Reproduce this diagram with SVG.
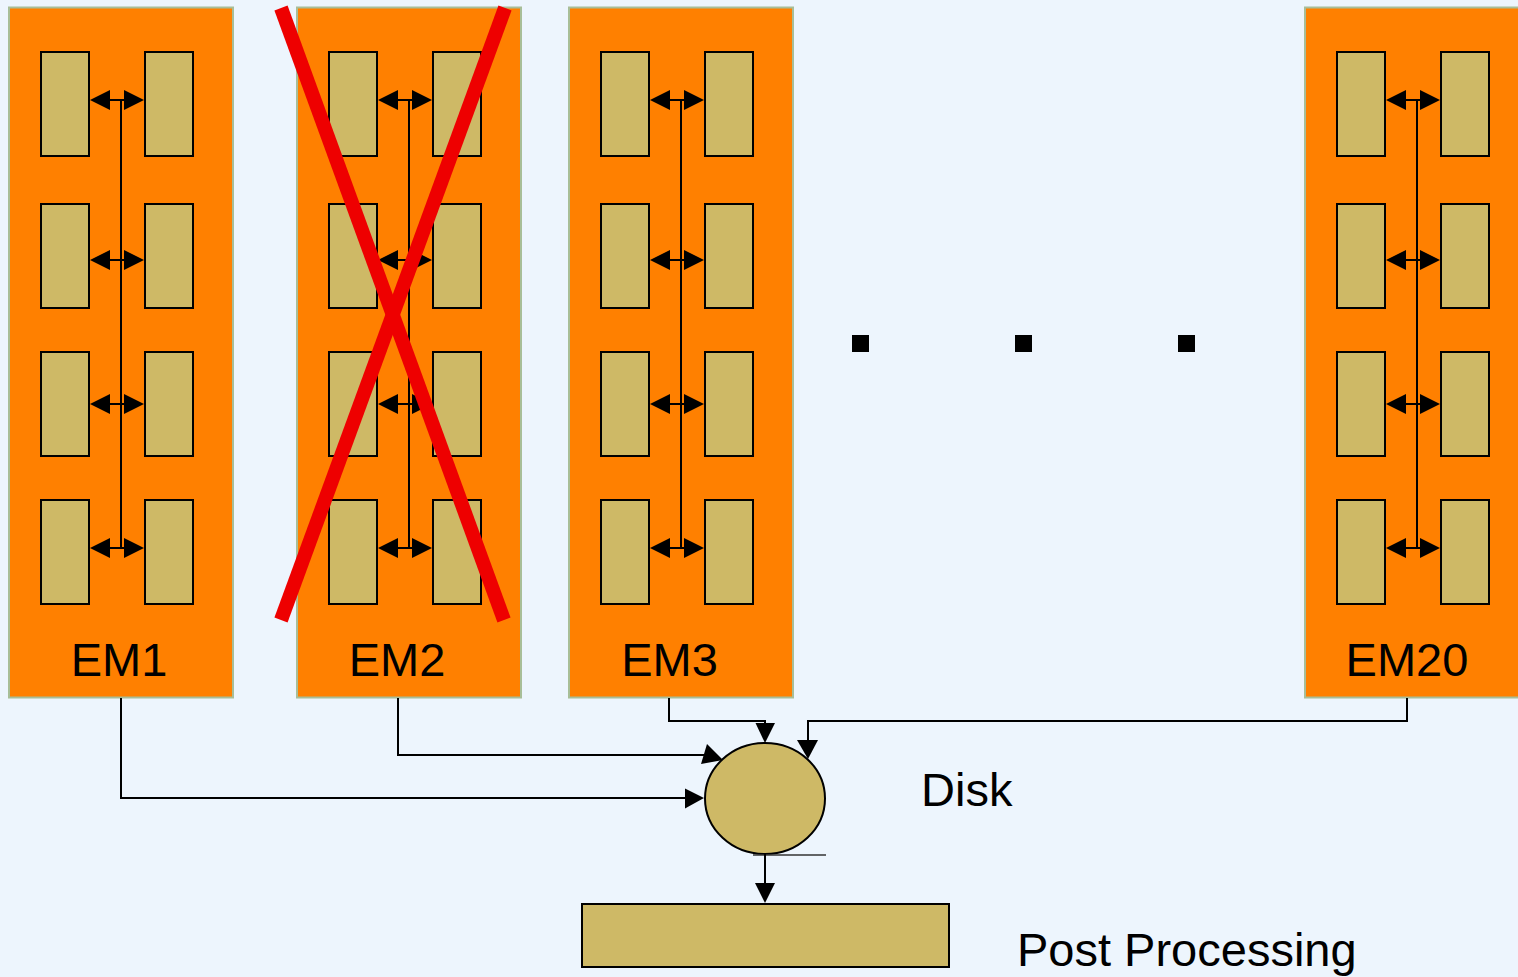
<svg xmlns="http://www.w3.org/2000/svg" width="1518" height="977" viewBox="0 0 1518 977">
<style>
.bg{fill:#EDF5FD}
.em{fill:#FF8000;stroke:#A8BE98;stroke-width:2}
.cell{fill:#CEB966;stroke:#000;stroke-width:2}
.ln{fill:none;stroke:#000;stroke-width:2}
.ah{fill:#000}
.lbl{font-family:"Liberation Sans",Arial,sans-serif;font-size:47px;fill:#000}
.x{stroke:#EE0000;stroke-width:14;stroke-linecap:butt}
</style>
<defs>
<g id="pair">
<rect class="cell" x="41" y="0" width="48" height="104"/>
<rect class="cell" x="145" y="0" width="48" height="104"/>
</g>
<g id="dbl">
<line class="ln" x1="108" y1="0" x2="126" y2="0"/>
<polygon class="ah" points="90,0 110,-10 110,10"/>
<polygon class="ah" points="144,0 124,-10 124,10"/>
</g>
<g id="module">
<rect class="em" x="9" y="7.5" width="224" height="690"/>
<use href="#pair" y="52"/>
<use href="#pair" y="204"/>
<use href="#pair" y="352"/>
<use href="#pair" y="500"/>
<line class="ln" x1="121" y1="100" x2="121" y2="548"/>
<use href="#dbl" y="100"/>
<use href="#dbl" y="260"/>
<use href="#dbl" y="404"/>
<use href="#dbl" y="548"/>
</g>
</defs>
<rect class="bg" x="0" y="0" width="1518" height="977"/>
<g id="em1">
<use href="#module"/>
<text class="lbl" x="119" y="676" text-anchor="middle">EM1</text>
</g>
<g id="em2">
<use href="#module" x="288"/>
<text class="lbl" x="397" y="676" text-anchor="middle">EM2</text>
<line class="x" x1="281" y1="8" x2="504" y2="620"/>
<line class="x" x1="505" y1="8" x2="281" y2="620"/>
</g>
<g id="em3">
<use href="#module" x="560"/>
<text class="lbl" x="669.5" y="676" text-anchor="middle">EM3</text>
</g>
<g id="em20">
<use href="#module" x="1296"/>
<text class="lbl" x="1407" y="676" text-anchor="middle">EM20</text>
</g>
<g id="dots">
<rect x="852" y="335" width="17" height="17" fill="#000"/>
<rect x="1015" y="335" width="17" height="17" fill="#000"/>
<rect x="1178" y="335" width="17" height="17" fill="#000"/>
</g>
<g id="disk">
<ellipse cx="765" cy="798.5" rx="60" ry="55.5" fill="#CEB966" stroke="#000" stroke-width="2"/>
<line x1="753" y1="855" x2="826" y2="855" stroke="#333" stroke-width="1.5"/>
<text class="lbl" x="921" y="806">Disk</text>
</g>
<g id="post">
<rect x="582" y="904" width="367" height="63" fill="#CEB966" stroke="#000" stroke-width="2"/>
<text class="lbl" x="1017" y="966">Post Processing</text>
</g>
<g id="connectors">
<path class="ln" d="M121,698 V798 H688"/>
<polygon class="ah" points="704,798 685,788.5 685,808.5"/>
<path class="ln" d="M398,698 V755 H708"/>
<polygon class="ah" points="723,760 707,744 701,764"/>
<path class="ln" d="M669,698 V721 H765 V726"/>
<polygon class="ah" points="765,743 755.5,723 775,723"/>
<path class="ln" d="M1407,698 V721 H808 V742"/>
<polygon class="ah" points="808,759 797,740 818,740"/>
<path class="ln" d="M765,854 V886"/>
<polygon class="ah" points="765,903 755,883 775,883"/>
</g>
</svg>
